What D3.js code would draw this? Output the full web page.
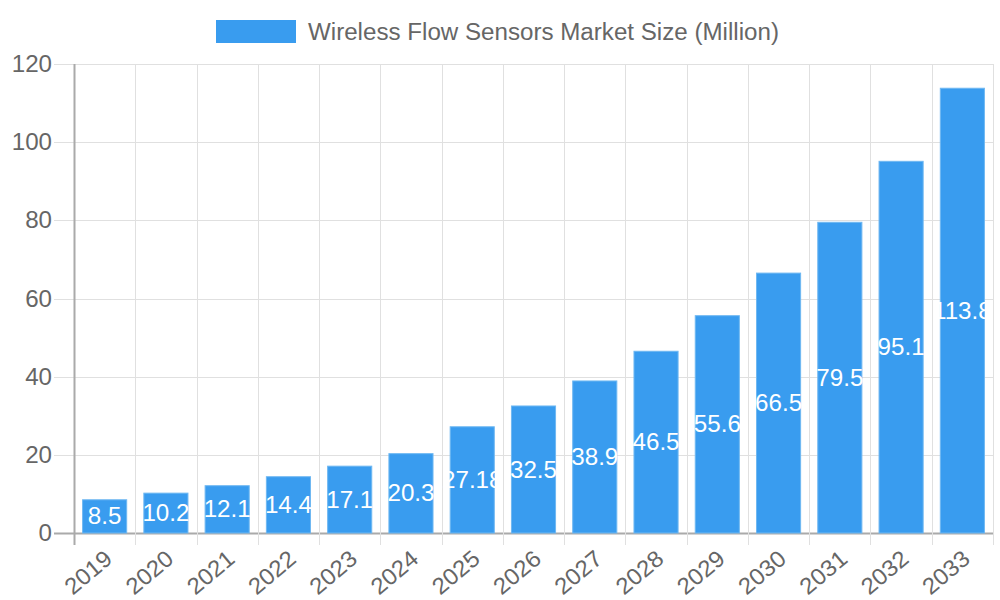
<!doctype html>
<html lang="en">
<head>
  <meta charset="utf-8">
  <title>Wireless Flow Sensors Market Size</title>
  <script src="https://d3js.org/d3.v7.min.js"></script>
  <style>
    body { margin: 0; background: #fff; }
    text { font-family: "Liberation Sans", Arial, sans-serif; }
  </style>
</head>
<body>
  <div id="chart"></div>
  <script>
    var years = ["2019","2020","2021","2022","2023","2024","2025","2026","2027","2028","2029","2030","2031","2032","2033"];
    var values = [8.5, 10.2, 12.1, 14.4, 17.1, 20.3, 27.18, 32.5, 38.9, 46.5, 55.6, 66.5, 79.5, 95.1, 113.8];
    var yTicks = [0, 20, 40, 60, 80, 100, 120];
    var seriesName = "Wireless Flow Sensors Market Size (Million)";

    var width = 1000, height = 600;
    var plotLeft = 74, plotRight = 993, plotTop = 64, plotBottom = 533;
    var barFill = "#399cef", barStroke = "#6fb8f2";
    var fontSize = '23px';
    var stretch = 1.05; // text in the reference is a little wider than plain Liberation Sans

    var svg = d3.select('#chart').append('svg')
      .attr('width', width).attr('height', height);

    var x = d3.scaleBand().domain(years).range([plotLeft, plotRight]);
    var y = d3.scaleLinear().domain([0, 120]).range([plotBottom, plotTop]);

    // horizontal grid + y tick marks
    svg.append('g').selectAll('line')
      .data(yTicks).enter().append('line')
      .attr('x1', plotLeft - 20).attr('x2', plotRight)
      .attr('y1', function(d) { return Math.round(y(d)) + 0.5; })
      .attr('y2', function(d) { return Math.round(y(d)) + 0.5; })
      .attr('stroke', function(d) { return d === 0 ? '#aaa' : '#e0e0e0'; })
      .attr('stroke-width', function(d) { return d === 0 ? 2 : 1; });

    // vertical grid lines at band edges
    var edges = years.map(function(d) { return x(d); }).concat([plotRight]);
    svg.append('g').selectAll('line')
      .data(edges).enter().append('line')
      .attr('x1', function(d) { return Math.round(d) + 0.5; })
      .attr('x2', function(d) { return Math.round(d) + 0.5; })
      .attr('y1', plotTop).attr('y2', plotBottom + 12)
      .attr('stroke', function(d, i) { return i === 0 ? '#aaa' : '#e0e0e0'; })
      .attr('stroke-width', function(d, i) { return i === 0 ? 2 : 1; });

    // y labels
    svg.append('g').selectAll('text')
      .data(yTicks).enter().append('text')
      .attr('transform', function(d) { return 'translate(' + (plotLeft - 22) + ',' + y(d) + ') scale(' + stretch + ',1)'; })
      .attr('dy', '0.35em')
      .attr('text-anchor', 'end')
      .style('font-size', fontSize).style('fill', '#666')
      .text(function(d) { return d; });

    // bars
    var bw = x.bandwidth() * 0.72;
    svg.append('g').selectAll('rect')
      .data(values).enter().append('rect')
      .attr('x', function(d, i) { return x(years[i]) + (x.bandwidth() - bw) / 2; })
      .attr('width', bw)
      .attr('y', function(d) { return y(d); })
      .attr('height', function(d) { return y(0) - y(d); })
      .attr('fill', barFill)
      .attr('stroke', barStroke).attr('stroke-width', 1);

    // value labels
    svg.append('g').selectAll('text')
      .data(values).enter().append('text')
      .attr('transform', function(d, i) {
        return 'translate(' + (x(years[i]) + x.bandwidth() / 2) + ',' + (y(d) + y(0)) / 2 + ') scale(' + stretch + ',1)';
      })
      .attr('dy', '0.35em')
      .attr('text-anchor', 'middle')
      .style('font-size', fontSize).style('fill', '#fff')
      .text(function(d) { return d; });

    // x labels rotated
    svg.append('g').selectAll('text')
      .data(years).enter().append('text')
      .attr('transform', function(d) {
        return 'translate(' + (x(d) + x.bandwidth() / 2 + 4) + ',' + (plotBottom + 22) + ') rotate(-40) scale(' + stretch + ',1)';
      })
      .attr('text-anchor', 'end')
      .attr('dy', '0.35em')
      .style('font-size', fontSize).style('fill', '#666')
      .text(function(d) { return d; });

    // legend
    var legend = svg.append('g');
    legend.append('rect').attr('x', 216).attr('y', 20).attr('width', 80).attr('height', 23)
      .attr('fill', barFill);
    legend.append('text')
      .attr('transform', 'translate(308,32) scale(' + stretch + ',1)')
      .attr('dy', '0.35em')
      .style('font-size', fontSize).style('fill', '#666')
      .text(seriesName);
  </script>
</body>
</html>
